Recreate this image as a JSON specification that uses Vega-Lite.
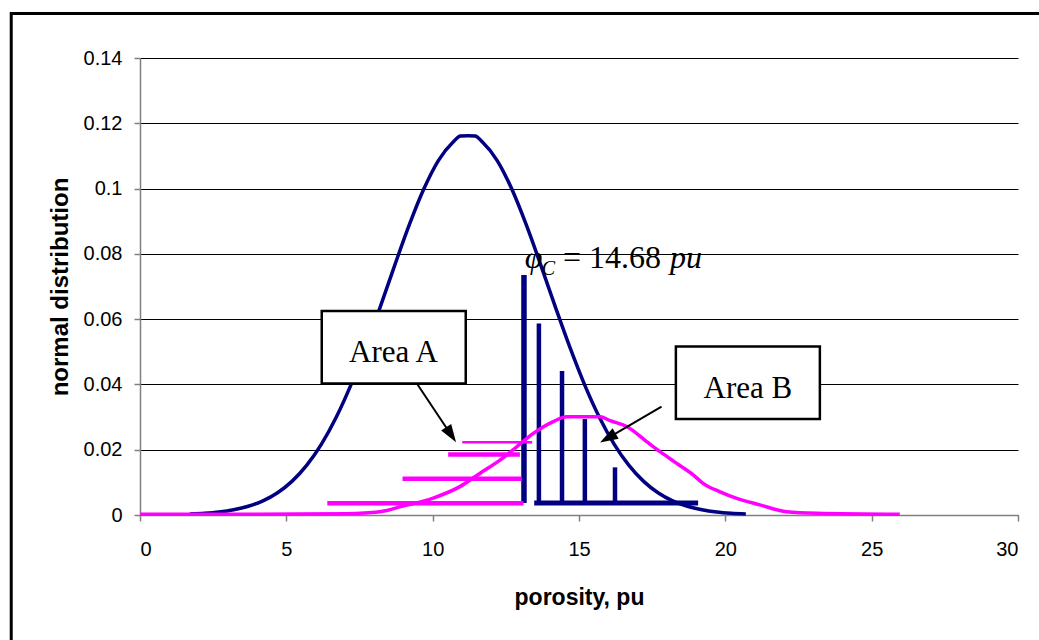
{
  "$schema": "https://vega.github.io/schema/vega-lite/v6.json",
  "width": 878,
  "height": 457,
  "autosize": {"type": "none"},
  "padding": {"left": 140, "top": 58, "right": 21, "bottom": 125},
  "background": "white",
  "config": {
    "view": {"stroke": null},
    "axis": {
      "labelFont": "Liberation Sans",
      "labelFontSize": 20,
      "labelColor": "black",
      "titleFont": "Liberation Sans",
      "titleFontSize": 23,
      "titleFontWeight": "bold",
      "titleColor": "black",
      "domainColor": "#808080",
      "tickColor": "#808080",
      "tickSize": 6,
      "domainWidth": 1.5,
      "tickWidth": 1.5
    }
  },
  "datasets": {
    "blue": [
      {"x": 1.7, "y": 0.00027}, {"x": 2.2, "y": 0.00051}, {"x": 2.7, "y": 0.00091},
      {"x": 3.2, "y": 0.00159}, {"x": 3.7, "y": 0.00267}, {"x": 4.2, "y": 0.00434},
      {"x": 4.7, "y": 0.00683}, {"x": 5.2, "y": 0.01038}, {"x": 5.7, "y": 0.01527},
      {"x": 6.2, "y": 0.02172}, {"x": 6.7, "y": 0.02987}, {"x": 7.2, "y": 0.03972},
      {"x": 7.7, "y": 0.05109}, {"x": 8.2, "y": 0.06353}, {"x": 8.7, "y": 0.07641},
      {"x": 9.2, "y": 0.08885}, {"x": 9.7, "y": 0.09992}, {"x": 10.2, "y": 0.10866},
      {"x": 10.7, "y": 0.11427}, {"x": 10.95, "y": 0.1161}, {"x": 11.2, "y": 0.1162},
      {"x": 11.45, "y": 0.1161}, {"x": 11.7, "y": 0.11427}, {"x": 12.2, "y": 0.10866},
      {"x": 12.7, "y": 0.09992}, {"x": 13.2, "y": 0.08885}, {"x": 13.7, "y": 0.07641},
      {"x": 14.2, "y": 0.06353}, {"x": 14.7, "y": 0.05109}, {"x": 15.2, "y": 0.03972},
      {"x": 15.7, "y": 0.02987}, {"x": 16.2, "y": 0.02172}, {"x": 16.7, "y": 0.01527},
      {"x": 17.2, "y": 0.01038}, {"x": 17.7, "y": 0.00683}, {"x": 18.2, "y": 0.00434},
      {"x": 18.7, "y": 0.00267}, {"x": 19.2, "y": 0.00159}, {"x": 19.7, "y": 0.00091},
      {"x": 20.2, "y": 0.00051}, {"x": 20.7, "y": 0.00027}
    ],
    "pink": [
      {"x": 0, "y": 0.0002}, {"x": 2, "y": 0.0002}, {"x": 4, "y": 0.0002},
      {"x": 5.5, "y": 0.0003}, {"x": 7.06, "y": 0.0004}, {"x": 8.2, "y": 0.001},
      {"x": 8.88, "y": 0.0025}, {"x": 10.02, "y": 0.0052}, {"x": 10.93, "y": 0.0087},
      {"x": 11.62, "y": 0.0128}, {"x": 12.3, "y": 0.0168}, {"x": 12.87, "y": 0.0209},
      {"x": 13.44, "y": 0.025}, {"x": 14.12, "y": 0.0286}, {"x": 14.58, "y": 0.0301},
      {"x": 15.72, "y": 0.0301}, {"x": 16.06, "y": 0.0289}, {"x": 16.63, "y": 0.0271},
      {"x": 17.31, "y": 0.0225}, {"x": 17.77, "y": 0.0194}, {"x": 18.34, "y": 0.0158},
      {"x": 18.9, "y": 0.0123}, {"x": 19.24, "y": 0.0097}, {"x": 19.82, "y": 0.0071},
      {"x": 20.39, "y": 0.0051}, {"x": 21.18, "y": 0.0031}, {"x": 22.09, "y": 0.001},
      {"x": 23.12, "y": 0.0005}, {"x": 25.96, "y": 0.0002}
    ],
    "vbarFirst": [{"x": 13.12, "y": 0.0735, "y2": 0.0037}],
    "vbars": [
      {"x": 13.63, "y": 0.0587, "y2": 0.0037},
      {"x": 14.42, "y": 0.0441, "y2": 0.0037},
      {"x": 15.2, "y": 0.0294, "y2": 0.0037},
      {"x": 16.23, "y": 0.0146, "y2": 0.0037}
    ],
    "hbarBlue": [{"x": 13.47, "x2": 19.07, "y": 0.0037}],
    "pinkBars": [
      {"x": 6.4, "x2": 13.1, "y": 0.0036},
      {"x": 8.97, "x2": 13.04, "y": 0.0111},
      {"x": 10.53, "x2": 12.98, "y": 0.0185}
    ],
    "pinkThin": [{"x": 11.01, "x2": 13.4, "y": 0.0223}],
    "boxes": [
      {"x": 6.21, "x2": 11.13, "y": 0.0625, "y2": 0.0403, "label": "Area A", "tx": 8.66, "ty": 0.047},
      {"x": 18.31, "x2": 23.23, "y": 0.0516, "y2": 0.0294, "label": "Area B", "tx": 20.77, "ty": 0.0359}
    ],
    "arrowA": [{"x": 9.46, "y": 0.0403, "x2": 10.61, "y2": 0.0248, "tx": 10.8, "ty": 0.0223}],
    "arrowB": [{"x": 17.82, "y": 0.0332, "x2": 16.01, "y2": 0.0237, "tx": 15.72, "ty": 0.0222}],
    "frame": [{"x": -4.4, "x2": 40, "y": 0.1536, "y2": -0.1}]
  },
  "encoding": {
    "x": {
      "type": "quantitative",
      "scale": {"domain": [0, 30], "nice": false, "zero": false}
    },
    "y": {
      "type": "quantitative",
      "scale": {"domain": [0, 0.14], "nice": false, "zero": false}
    }
  },
  "layer": [
    {
      "data": {"name": "blue"},
      "mark": {"type": "line", "color": "#000080", "strokeWidth": 3.5, "interpolate": "monotone"},
      "encoding": {
        "x": {"field": "x", "type": "quantitative",
          "axis": {"values": [0, 5, 10, 15, 20, 25, 30], "grid": false, "title": "porosity, pu",
            "labelPadding": 18, "titlePadding": 27}},
        "y": {"field": "y", "type": "quantitative",
          "axis": {"values": [0, 0.02, 0.04, 0.06, 0.08, 0.1, 0.12, 0.14], "format": "~g",
            "grid": true, "gridColor": "#000000", "gridWidth": 1, "title": "normal distribution",
            "titleFontSize": 24, "labelPadding": 12, "titlePadding": 11}}
      }
    },
    {
      "data": {"name": "vbarFirst"},
      "mark": {"type": "rule", "color": "#000080", "strokeWidth": 5.5},
      "encoding": {
        "x": {"field": "x", "type": "quantitative"},
        "y": {"field": "y", "type": "quantitative"},
        "y2": {"field": "y2"}
      }
    },
    {
      "data": {"name": "vbars"},
      "mark": {"type": "rule", "color": "#000080", "strokeWidth": 4.5},
      "encoding": {
        "x": {"field": "x", "type": "quantitative"},
        "y": {"field": "y", "type": "quantitative"},
        "y2": {"field": "y2"}
      }
    },
    {
      "data": {"name": "hbarBlue"},
      "mark": {"type": "rule", "color": "#000080", "strokeWidth": 5},
      "encoding": {
        "x": {"field": "x", "type": "quantitative"},
        "x2": {"field": "x2"},
        "y": {"field": "y", "type": "quantitative"}
      }
    },
    {
      "data": {"name": "pink"},
      "mark": {"type": "line", "color": "#FF00FF", "strokeWidth": 3.5, "interpolate": "monotone"},
      "encoding": {
        "x": {"field": "x", "type": "quantitative"},
        "y": {"field": "y", "type": "quantitative"}
      }
    },
    {
      "data": {"name": "pinkBars"},
      "mark": {"type": "rule", "color": "#FF00FF", "strokeWidth": 4.5},
      "encoding": {
        "x": {"field": "x", "type": "quantitative"},
        "x2": {"field": "x2"},
        "y": {"field": "y", "type": "quantitative"}
      }
    },
    {
      "data": {"name": "pinkThin"},
      "mark": {"type": "rule", "color": "#FF00FF", "strokeWidth": 2.5},
      "encoding": {
        "x": {"field": "x", "type": "quantitative"},
        "x2": {"field": "x2"},
        "y": {"field": "y", "type": "quantitative"}
      }
    },
    {
      "data": {"name": "boxes"},
      "mark": {"type": "rect", "fill": "white", "stroke": "black", "strokeWidth": 2.5},
      "encoding": {
        "x": {"field": "x", "type": "quantitative"},
        "x2": {"field": "x2"},
        "y": {"field": "y", "type": "quantitative"},
        "y2": {"field": "y2"}
      }
    },
    {
      "data": {"name": "boxes"},
      "mark": {"type": "text", "font": "Liberation Serif", "fontSize": 31, "align": "center", "baseline": "alphabetic", "color": "black"},
      "encoding": {
        "x": {"field": "tx", "type": "quantitative"},
        "y": {"field": "ty", "type": "quantitative"},
        "text": {"field": "label"}
      }
    },
    {
      "data": {"name": "arrowA"},
      "mark": {"type": "rule", "color": "black", "strokeWidth": 2},
      "encoding": {
        "x": {"field": "x", "type": "quantitative"},
        "y": {"field": "y", "type": "quantitative"},
        "x2": {"field": "x2"},
        "y2": {"field": "y2"}
      }
    },
    {
      "data": {"name": "arrowA"},
      "mark": {"type": "point", "shape": "M0,0L-1.2,3.6L1.2,3.6Z", "size": 100, "filled": true, "color": "black", "opacity": 1, "angle": 146.6},
      "encoding": {
        "x": {"field": "tx", "type": "quantitative"},
        "y": {"field": "ty", "type": "quantitative"}
      }
    },
    {
      "data": {"name": "arrowB"},
      "mark": {"type": "rule", "color": "black", "strokeWidth": 2},
      "encoding": {
        "x": {"field": "x", "type": "quantitative"},
        "y": {"field": "y", "type": "quantitative"},
        "x2": {"field": "x2"},
        "y2": {"field": "y2"}
      }
    },
    {
      "data": {"name": "arrowB"},
      "mark": {"type": "point", "shape": "M0,0L-1.2,3.6L1.2,3.6Z", "size": 100, "filled": true, "color": "black", "opacity": 1, "angle": 239.7},
      "encoding": {
        "x": {"field": "tx", "type": "quantitative"},
        "y": {"field": "ty", "type": "quantitative"}
      }
    },
    {
      "data": {"values": [{"x": 13.15, "y": 0.0757, "t": "φ"}, {"x": 18.11, "y": 0.0757, "t": "pu"}]},
      "mark": {"type": "text", "font": "Liberation Serif", "fontSize": 32, "fontStyle": "italic", "align": "left", "baseline": "alphabetic", "color": "black"},
      "encoding": {
        "x": {"field": "x", "type": "quantitative"},
        "y": {"field": "y", "type": "quantitative"},
        "text": {"field": "t"}
      }
    },
    {
      "data": {"values": [{"x": 13.73, "y": 0.0735, "t": "C"}]},
      "mark": {"type": "text", "font": "Liberation Serif", "fontSize": 20, "fontStyle": "italic", "align": "left", "baseline": "alphabetic", "color": "black"},
      "encoding": {
        "x": {"field": "x", "type": "quantitative"},
        "y": {"field": "y", "type": "quantitative"},
        "text": {"field": "t"}
      }
    },
    {
      "data": {"values": [{"x": 14.45, "y": 0.0757, "t": "= 14.68"}]},
      "mark": {"type": "text", "font": "Liberation Serif", "fontSize": 32, "align": "left", "baseline": "alphabetic", "color": "black"},
      "encoding": {
        "x": {"field": "x", "type": "quantitative"},
        "y": {"field": "y", "type": "quantitative"},
        "text": {"field": "t"}
      }
    },
    {
      "data": {"name": "frame"},
      "mark": {"type": "rect", "fill": null, "fillOpacity": 0, "stroke": "black", "strokeWidth": 3, "clip": false},
      "encoding": {
        "x": {"field": "x", "type": "quantitative"},
        "x2": {"field": "x2"},
        "y": {"field": "y", "type": "quantitative"},
        "y2": {"field": "y2"}
      }
    }
  ]
}
